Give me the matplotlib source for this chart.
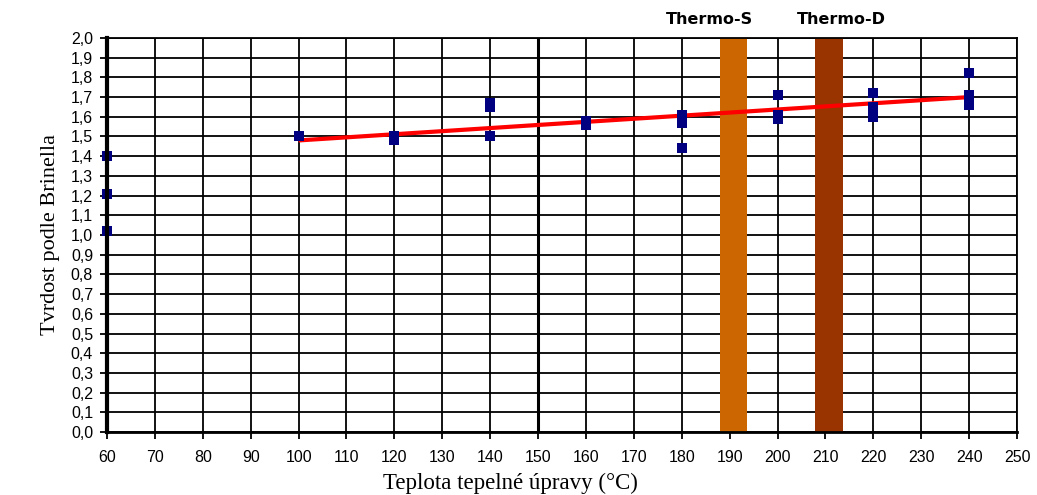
import matplotlib
matplotlib.use("Agg")
import matplotlib.pyplot as plt
from matplotlib.ticker import FixedLocator, FuncFormatter

# Data
temp_x = [60, 60, 60, 100, 120, 120, 140, 140, 140, 160, 160, 180, 180, 180,
          200, 200, 200, 220, 220, 220, 240, 240, 240]
hardness = [1.40, 1.21, 1.02, 1.50, 1.50, 1.48, 1.67, 1.65, 1.50, 1.58, 1.56,
            1.61, 1.57, 1.44, 1.71, 1.61, 1.59, 1.72, 1.65, 1.60, 1.82, 1.71, 1.66]
trend_x = [100, 240]
trend_y = [1.48, 1.70]
bands = [("Thermo-S", 188.0, 193.6, "#CC6600", 185.7),
         ("Thermo-D", 207.8, 213.7, "#993300", 213.3)]
x_ticks = list(range(60, 251, 10))
y_ticks = [i / 10 for i in range(0, 21)]

fig = plt.figure(figsize=(10.37, 4.95), dpi=100)
ax = fig.add_axes([107/1037, 1 - 432/495, (1017-107)/1037, (432-38)/495])
ax.set_xlim(60, 250)
ax.set_ylim(0, 2.0)

# grid
for xv in x_ticks:
    lw = 2.2 if xv == 150 else 1.3
    ax.axvline(xv, color="black", lw=lw, zorder=1)
for yv in y_ticks:
    ax.axhline(yv, color="black", lw=1.3, zorder=1)

for name, x0, x1, col, tx in bands:
    ax.axvspan(x0, x1, ymin=0, ymax=1, color=col, zorder=2, lw=0)
    ax.text(tx, 2.055, name, ha="center", va="bottom", fontsize=11.5,
            fontweight="bold", family="DejaVu Sans", clip_on=False)

ax.plot(trend_x, trend_y, color="#FF0000", lw=3, zorder=3, solid_capstyle="butt")
ax.plot(temp_x, hardness, "s", color="#000080", markersize=7.5, zorder=4,
        clip_on=False, markeredgewidth=0)

ax.xaxis.set_major_locator(FixedLocator(x_ticks))
ax.yaxis.set_major_locator(FixedLocator(y_ticks))
ax.yaxis.set_major_formatter(FuncFormatter(lambda v, p: f"{v:.1f}".replace(".", ",")))
ax.tick_params(direction="out", length=5, width=1.3, labelsize=11.5)
ax.tick_params(axis="x", pad=8)
ax.tick_params(axis="y", pad=5)
for lab in ax.get_xticklabels() + ax.get_yticklabels():
    lab.set_family("Liberation Sans")

for s in ["top", "right"]:
    ax.spines[s].set_linewidth(1.3)
ax.spines["left"].set_linewidth(3)
ax.spines["bottom"].set_linewidth(2)
for s in ax.spines.values():
    s.set_zorder(5)

ax.set_ylabel("Tvrdost podle Brinella", family="Liberation Serif", fontsize=16, labelpad=8)
fig.text(510/1037, 1 - 483/495, "Teplota tepelné úpravy (°C)", family="Liberation Serif",
         fontsize=16.5, ha="center", va="center")

fig.savefig("out.png", dpi=100)
